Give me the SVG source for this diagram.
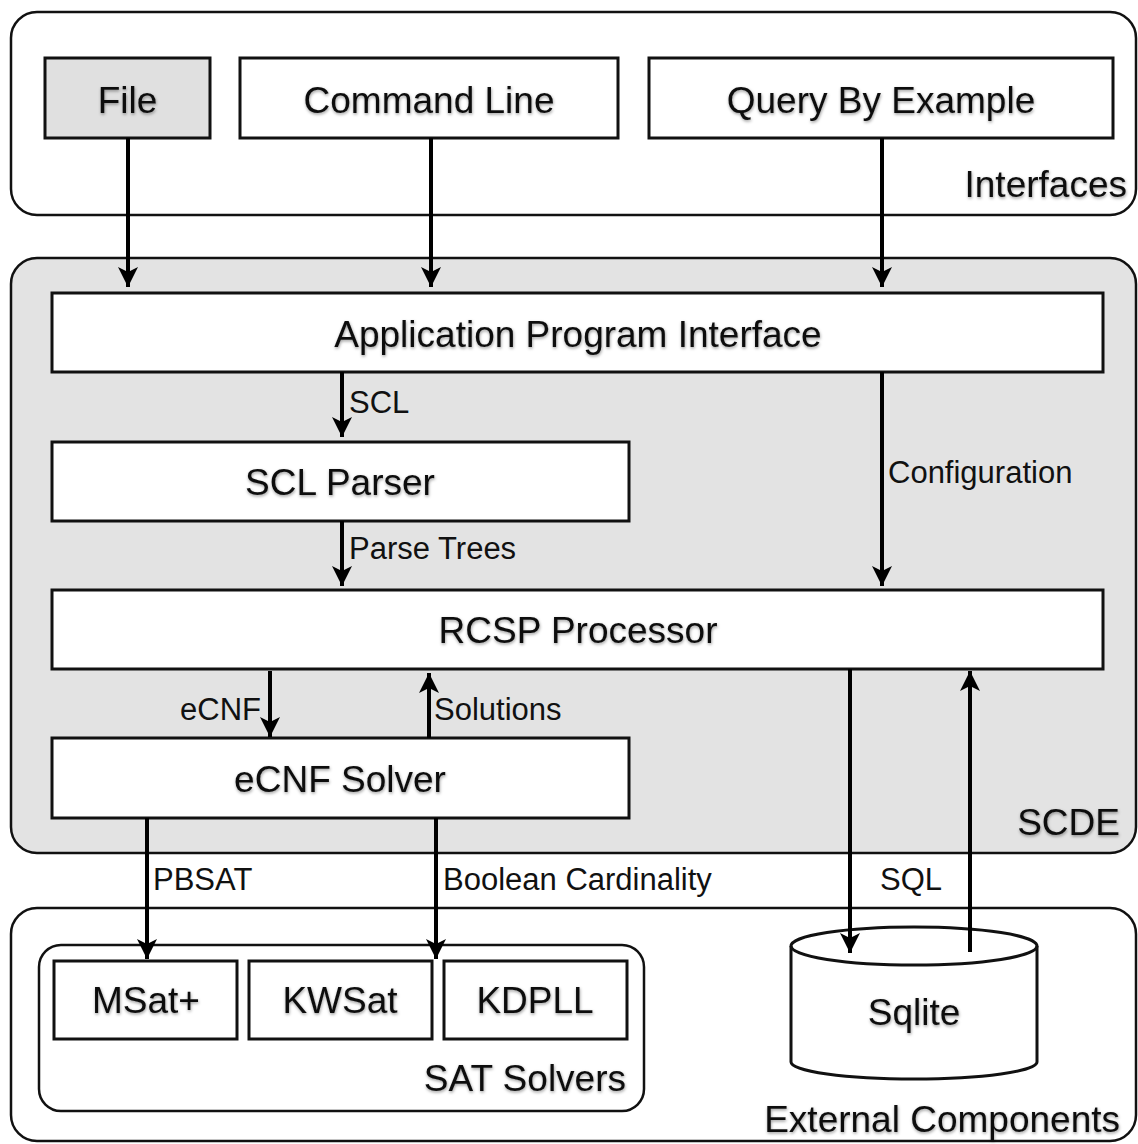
<svg xmlns="http://www.w3.org/2000/svg" width="1138" height="1144" viewBox="0 0 1138 1144">
<style>
.box{fill:#fff;stroke:#111;stroke-width:3}
.cont{stroke:#111;stroke-width:2.5}
.lbl{font-family:"Liberation Sans",Arial,sans-serif;font-size:37px;fill:#111;filter:url(#sh)}
.mid{text-anchor:middle}
.end{text-anchor:end}
.elbl{font-family:"Liberation Sans",Arial,sans-serif;font-size:31px;fill:#111}
.conn{stroke:#000;stroke-width:4;fill:none;marker-end:url(#ah)}
</style>
<defs>
<filter id="sh" x="-10%" y="-30%" width="120%" height="160%">
<feDropShadow dx="0.5" dy="1.5" stdDeviation="1.8" flood-color="#000" flood-opacity="0.4"/>
</filter>
<marker id="ah" markerUnits="userSpaceOnUse" markerWidth="22" markerHeight="22" refX="20" refY="10" orient="auto">
<path d="M0,0 L20,10 L0,20 L5,10 z" fill="#000"/>
</marker>
</defs>
<rect width="1138" height="1144" fill="#fff"/>

<g id="interfaces">
<rect class="cont" x="11" y="12" width="1125" height="203" rx="26" fill="#fff"/>
<text class="lbl end" x="1127" y="197">Interfaces</text>
</g>
<g id="scde">
<rect class="cont" x="11" y="258" width="1125" height="595" rx="26" fill="#e3e3e3"/>
<text class="lbl end" x="1120" y="835">SCDE</text>
</g>
<g id="external">
<rect class="cont" x="11" y="908" width="1125" height="233" rx="26" fill="#fff"/>
<text class="lbl end" x="1120" y="1132">External Components</text>
</g>
<g id="satsolvers">
<rect class="cont" x="39" y="945" width="605" height="166" rx="22" fill="#fff"/>
<text class="lbl end" x="626" y="1091">SAT Solvers</text>
</g>

<g id="file">
<rect class="box" x="45" y="58" width="165" height="80" style="fill:#e0e0e0"/>
<text class="lbl mid" x="127.5" y="113">File</text>
</g>
<g id="commandline">
<rect class="box" x="240" y="58" width="378" height="80"/>
<text class="lbl mid" x="429" y="113">Command Line</text>
</g>
<g id="qbe">
<rect class="box" x="649" y="58" width="464" height="80"/>
<text class="lbl mid" x="881" y="113">Query By Example</text>
</g>
<g id="api">
<rect class="box" x="52" y="293" width="1051" height="79"/>
<text class="lbl mid" x="578" y="347">Application Program Interface</text>
</g>
<g id="sclparser">
<rect class="box" x="52" y="442" width="577" height="79"/>
<text class="lbl mid" x="340" y="495">SCL Parser</text>
</g>
<g id="rcsp">
<rect class="box" x="52" y="590" width="1051" height="79"/>
<text class="lbl mid" x="578" y="643">RCSP Processor</text>
</g>
<g id="ecnfsolver">
<rect class="box" x="52" y="738" width="577" height="80"/>
<text class="lbl mid" x="340" y="792">eCNF Solver</text>
</g>
<g id="msat">
<rect class="box" x="54" y="961" width="183" height="78"/>
<text class="lbl mid" x="146" y="1013">MSat+</text>
</g>
<g id="kwsat">
<rect class="box" x="249" y="961" width="183" height="78"/>
<text class="lbl mid" x="340" y="1013">KWSat</text>
</g>
<g id="kdpll">
<rect class="box" x="444" y="961" width="183" height="78"/>
<text class="lbl mid" x="535" y="1013">KDPLL</text>
</g>
<g id="sqlite">
<path d="M791,946 L791,1062 A123,17 0 0 0 1037,1062 L1037,946 A123,19 0 0 0 791,946 Z" fill="#fff" stroke="#111" stroke-width="3"/>
<path d="M791,946 A123,19 0 0 0 1037,946" fill="none" stroke="#111" stroke-width="3"/>
<text class="lbl mid" x="914" y="1025">Sqlite</text>
</g>

<g id="connectors">
<line class="conn" x1="128" y1="138" x2="128" y2="287"/>
<line class="conn" x1="431" y1="138" x2="431" y2="287"/>
<line class="conn" x1="882" y1="138" x2="882" y2="287"/>
<line class="conn" x1="342" y1="372" x2="342" y2="437"/>
<line class="conn" x1="342" y1="521" x2="342" y2="586"/>
<line class="conn" x1="882" y1="372" x2="882" y2="586"/>
<line class="conn" x1="270" y1="671" x2="270" y2="737"/>
<line class="conn" x1="429" y1="738" x2="429" y2="673"/>
<line class="conn" x1="147" y1="818" x2="147" y2="959"/>
<line class="conn" x1="436" y1="818" x2="436" y2="959"/>
<line class="conn" x1="850" y1="669" x2="850" y2="953"/>
<line class="conn" x1="970" y1="952" x2="970" y2="671"/>
<text class="elbl" x="349" y="413">SCL</text>
<text class="elbl" x="349" y="559">Parse Trees</text>
<text class="elbl" x="888" y="483">Configuration</text>
<text class="elbl end" x="261" y="720">eCNF</text>
<text class="elbl" x="434" y="720">Solutions</text>
<text class="elbl" x="153" y="890">PBSAT</text>
<text class="elbl" x="443" y="890">Boolean Cardinality</text>
<text class="elbl" x="880" y="890">SQL</text>
</g>
</svg>
